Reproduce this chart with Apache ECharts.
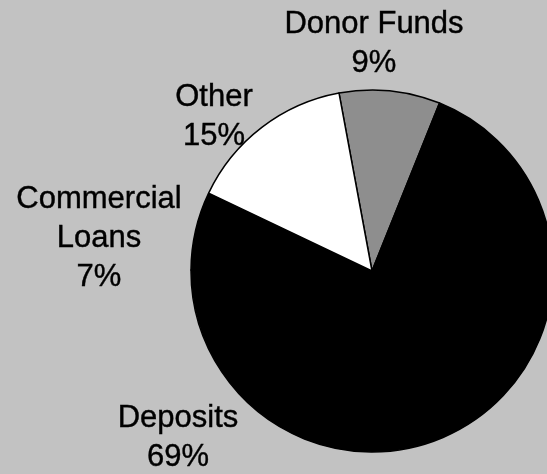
<!DOCTYPE html>
<html>
<head>
<meta charset="utf-8">
<script src="https://cdn.jsdelivr.net/npm/echarts@6/dist/echarts.min.js"></script>
<style>
  html, body { margin: 0; padding: 0; background: #c2c2c2; }
  #chart { width: 547px; height: 474px; }
</style>
</head>
<body>
<div id="chart"></div>
<script>
// Funding sources, share of total (%), listed clockwise from the top
const categories = ['Donor Funds', 'Deposits', 'Commercial Loans', 'Other'];
const shares = [9, 69, 7, 15];
const sliceColors = ['#8e8e8e', '#000000', '#000000', '#ffffff'];
// Where each label block sits (centre point, px)
const labelSpots = [[374, 44], [178, 438], [99, 238], [214, 117]];

const chart = echarts.init(document.getElementById('chart'), null, { renderer: 'canvas' });

chart.setOption({
  backgroundColor: '#c2c2c2',
  animation: false,
  series: [{
    type: 'pie',
    center: [372, 271],
    radius: 181,
    startAngle: 100.5,
    clockwise: true,
    avoidLabelOverlap: false,
    data: categories.map((name, i) => ({
      name,
      value: shares[i],
      itemStyle: { color: sliceColors[i] }
    })),
    itemStyle: { borderColor: '#000', borderWidth: 1.5 },
    label: {
      show: true,
      position: 'outside',
      formatter: (p) => p.name.replace(' Loans', '\nLoans') + '\n' + p.value + '%',
      fontFamily: 'Liberation Sans, Arial, sans-serif',
      fontSize: 31,
      lineHeight: 39,
      color: '#000',
      textBorderColor: '#000',
      textBorderWidth: 0.4,
      align: 'center'
    },
    labelLine: { show: false },
    labelLayout: (params) => ({
      x: labelSpots[params.dataIndex][0],
      y: labelSpots[params.dataIndex][1],
      align: 'center',
      verticalAlign: 'middle'
    })
  }]
});
</script>
</body>
</html>
